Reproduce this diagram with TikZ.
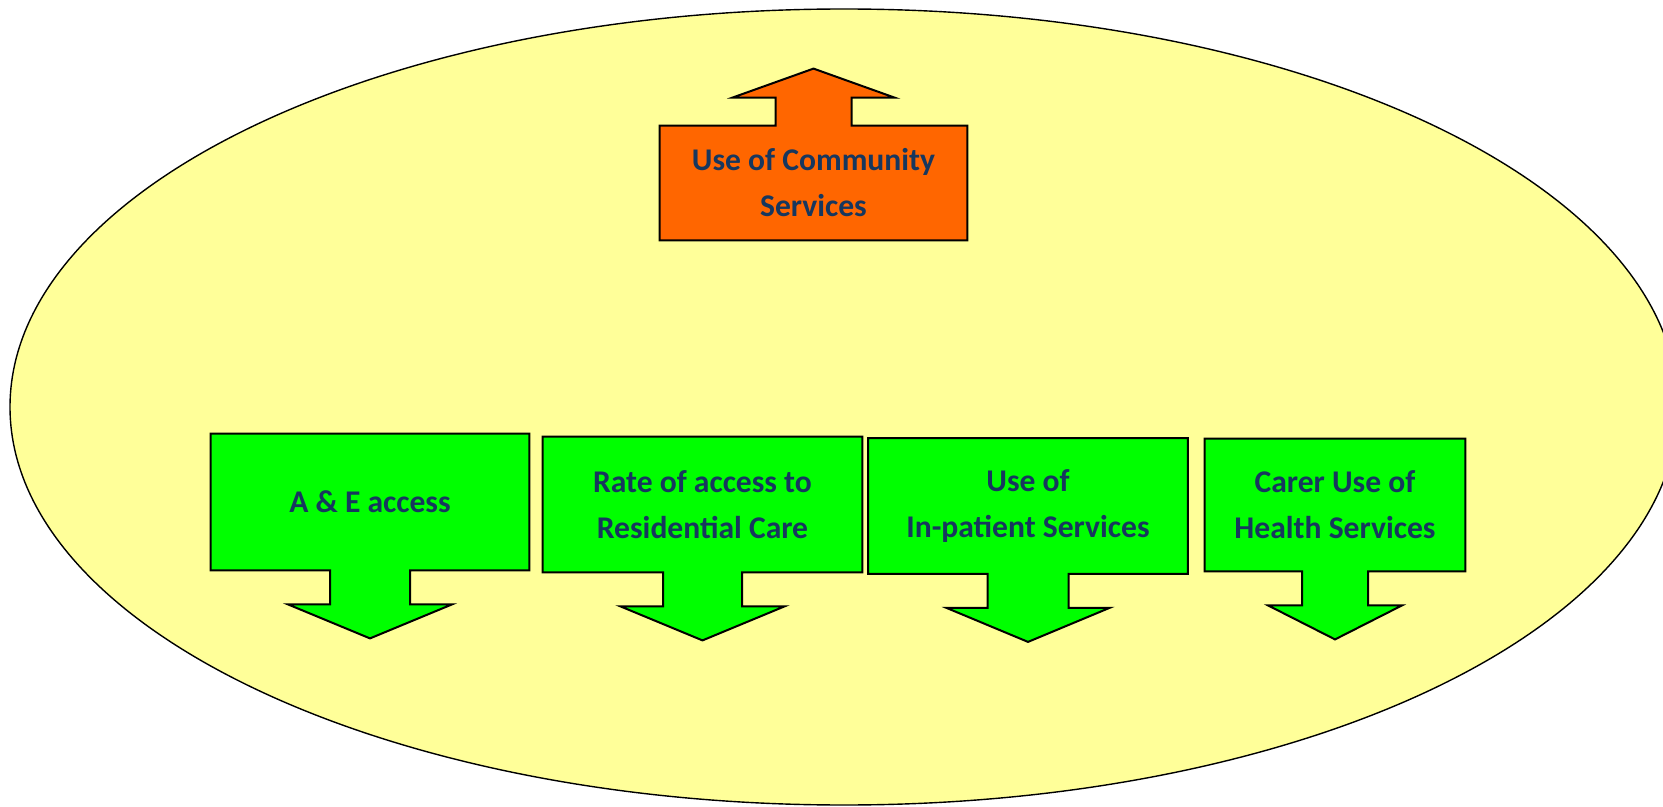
\documentclass[tikz,border=0pt]{standalone}
\usepackage{fontspec}
\setmainfont{Carlito}
\usepackage{xcolor}
\usepackage{tikz}
\usetikzlibrary{calc,backgrounds}
\definecolor{svcyellow}{HTML}{FFFF99}
\definecolor{svcorange}{HTML}{FF6600}
\definecolor{svcgreen}{HTML}{00FF00}
\definecolor{svcnavy}{RGB}{23,55,94}
\newcommand{\px}{0.5pt}
% outline of a box with an arrow leaving its bottom edge
\newcommand{\svcDownOutline}[4]{%
    \draw[#4] (#1.north west) -- (#1.north east) -- (#1.south east)
        -- ($(#1.south)+(#2,0)$) -- ($(#1.south)+(#2,34)$)
        -- ($(#1.south)+(#3,34)$) -- ($(#1.south)+(0,68)$)
        -- ($(#1.south)+(-#3,34)$) -- ($(#1.south)+(-#2,34)$)
        -- ($(#1.south)+(-#2,0)$) -- (#1.south west) -- cycle;}
\tikzset{
    svcbox/.style={
        align=center, font=\fontsize{15.8}{23}\selectfont\bfseries,
        text=svcnavy, inner sep=0pt},
    svcshape/.style={draw=black, line width=1pt, line join=miter},
    svcup/.style={svcshape, fill=svcorange},
    svcdown/.style={svcshape, fill=svcgreen},
    svcfield/.style={draw=black, line width=0.7pt, fill=svcyellow},
}

\begin{document}
\begin{tikzpicture}[x=\px, y=-\px]
    \useasboundingbox (0,0) rectangle (1663,807);

    % --- Community services (upwards) ---------------------------------------------
    \node[svcbox, minimum width=307*\px, minimum height=114*\px] (comm)
        at (813.5,183) {Use of Community\\Services};

    % --- Hospital and care services (downwards) -----------------------------------
    \node[svcbox, minimum width=318*\px, minimum height=136*\px] (ae)
        at (370,502) {A \& E access};
    \node[svcbox, minimum width=319*\px, minimum height=135*\px] (resid)
        at (702.5,504.5) {Rate of access to\\Residential Care};
    \node[svcbox, minimum width=319*\px, minimum height=135*\px] (inpat)
        at (1028,506) {Use of\\In-patient Services};
    \node[svcbox, minimum width=260*\px, minimum height=132*\px] (carer)
        at (1335,505) {Carer Use of\\Health Services};

    % --- Field and arrow outlines -------------------------------------------------
    \begin{scope}[on background layer]
        \draw[svcfield] (844,407) ellipse [x radius=834, y radius=398];
        \draw[svcup] (comm.south west) -- (comm.south east) -- (comm.north east)
            -- ($(comm.north)+(38,0)$) -- ($(comm.north)+(38,-28)$)
            -- ($(comm.north)+(81,-28)$) -- ($(comm.north)+(0,-57)$)
            -- ($(comm.north)+(-81,-28)$) -- ($(comm.north)+(-38,-28)$)
            -- ($(comm.north)+(-38,0)$) -- (comm.north west) -- cycle;
        \svcDownOutline{ae}{40}{82}{svcdown}
        \svcDownOutline{resid}{39.5}{82}{svcdown}
        \svcDownOutline{inpat}{40.5}{81.5}{svcdown}
        \svcDownOutline{carer}{33}{67}{svcdown}
    \end{scope}

\end{tikzpicture}
\end{document}
